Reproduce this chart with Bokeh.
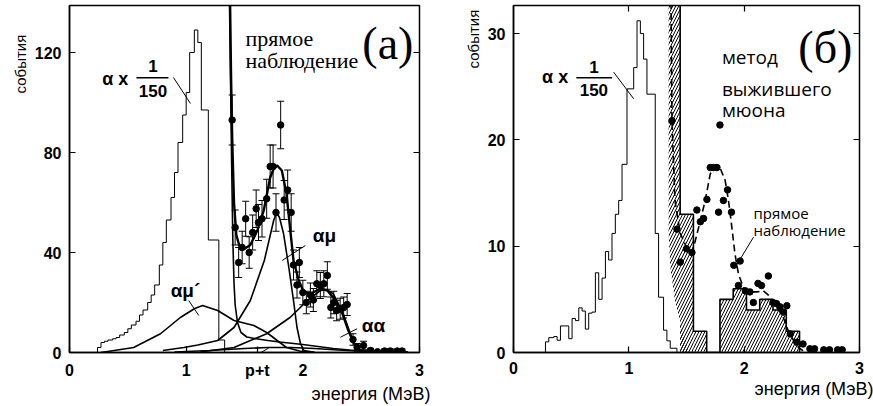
import math
from bokeh.plotting import figure
from bokeh.models import Range1d, FixedTicker, LinearAxis, Label, Whisker, TeeHead, ColumnDataSource, Title
from bokeh.layouts import row
from bokeh.embed import file_html
from bokeh.resources import INLINE

# ---------------- tick data ----------------
xticks_a = [0, 1, 1.61, 2, 3]
xtick_labels_a = ["0", "1", "p+t", "2", "3"]
xticks_b = [0, 1, 2, 3]
xtick_labels_b = ["0", "1", "2", "3"]
yticks_a = [0, 40, 80, 120]
yticks_b = [0, 10, 20, 30]

# ---------------- panel (a) data ----------------
# alpha x 1/150 histogram (a)
alpha_a_edges = [0.24, 0.27, 0.30, 0.33, 0.37, 0.40, 0.43, 0.47, 0.50, 0.53, 0.57, 0.60, 0.63, 0.67,
                 0.70, 0.73, 0.77, 0.80, 0.83, 0.87, 0.90, 0.93, 0.97, 1.00, 1.03, 1.07, 1.10, 1.13,
                 1.19, 1.28, 1.33]
alpha_a_counts = [2, 4, 4.5, 5, 5.5, 6, 7, 8, 9.5, 11, 12.5, 15, 17, 20, 23, 27, 35, 44, 53, 62,
                  72, 84, 95, 104, 120, 129, 124, 97, 45, 5]

# measured points (a)
pts_a_x = [1.394, 1.42, 1.45, 1.48, 1.51, 1.54, 1.57, 1.60, 1.62, 1.65, 1.69, 1.72, 1.745, 1.77, 1.81,
           1.84, 1.87, 1.90, 1.92, 1.95, 1.97, 2.00, 2.03, 2.065, 2.09, 2.12, 2.15, 2.18, 2.21, 2.24,
           2.265, 2.29, 2.32, 2.35, 2.38, 2.43, 2.465, 2.52, 2.58, 2.64, 2.70, 2.75, 2.81, 2.85]
pts_a_y = [93, 50, 36, 42, 53.5, 40, 48, 57.5, 52, 53.5, 61.5, 74.4, 74.4, 56, 91,
           61, 65, 56, 35, 27, 36, 24, 20, 23, 21, 27.5, 26.8, 27.5, 30.8, 18,
           20, 16.8, 17.5, 18, 19.2, 5.2, 2.1, 2.8, 0.8, 0.3, 0.6, 0.6, 0.6, 0.6]
pts_a_err = [10, 7, 6, 6.5, 7, 6.3, 7, 7.5, 7.2, 7.3, 7.8, 8.6, 8.6, 7.5, 9.5,
             7.8, 8, 7.5, 6, 5.2, 6, 4.9, 4.5, 4.8, 4.6, 5.2, 5.2, 5.2, 5.5, 4.2,
             4.5, 4.1, 4.2, 4.2, 4.4, 2.3, 1.5, 1.7, 0.9, 0.5, 0.8, 0.8, 0.8, 0.8]

# fit curves (a)
total_x = [1.375, 1.385, 1.395, 1.41, 1.43, 1.46, 1.50, 1.55, 1.61, 1.665, 1.72, 1.75, 1.78, 1.82,
           1.86, 1.89, 1.92, 1.965, 2.01, 2.065, 2.15, 2.21, 2.28, 2.34, 2.39, 2.44, 2.49, 2.58, 2.9]
total_y = [145, 110, 85, 60, 47, 42, 41.5, 43, 48.8, 56.8, 70, 73.5, 74.8, 72.8,
           63.5, 50, 36.8, 28.8, 24, 23.5, 25.5, 24.8, 20.8, 15.5, 8.8, 3.5, 0.8, 0.3, 0.1]
bg_x = [1.37, 1.38, 1.39, 1.40, 1.41, 1.42, 1.44, 1.47, 1.52, 1.6, 1.7, 1.8, 2.0, 2.26, 2.4, 2.6, 2.9]
bg_y = [145, 110, 75, 45, 28, 19, 12, 8, 6.2, 5.5, 4.8, 4.2, 3.2, 1.6, 1.0, 0.3, 0.1]
amu_x = [0.8, 0.98, 1.1, 1.27, 1.41, 1.55, 1.67, 1.75, 1.775, 1.80, 1.835, 1.88, 1.92, 1.95, 1.98, 2.01, 2.1]
amu_y = [0.8, 2, 3, 4.8, 10, 20.8, 36.8, 52.8, 56, 54, 47.5, 34, 20.8, 10, 3.5, 0.8, 0.1]
aa_x = [1.12, 1.41, 1.69, 1.89, 2.04, 2.15, 2.21, 2.26, 2.30, 2.35, 2.40, 2.44, 2.50, 2.6]
aa_y = [0.2, 2, 7.5, 14, 20.8, 24.8, 25, 23.5, 20, 15, 8.5, 3.5, 0.5, 0.1]
amup_x = [0.27, 0.55, 0.78, 0.95, 1.07, 1.14, 1.27, 1.41, 1.58, 1.69, 1.78, 1.86, 1.98, 2.1]
amup_y = [0, 2, 7.5, 14, 17.5, 18.8, 16.8, 12.8, 10.8, 8, 4.8, 2, 0.5, 0.1]
pt_x = [0.9, 1.2, 1.5, 1.7, 1.9, 2.1, 2.3, 2.5, 2.7]
pt_y = [0.2, 0.8, 1.6, 2.0, 2.0, 1.6, 1.0, 0.5, 0.2]

# ---------------- panel (b) data ----------------
alpha_b_edges = [0.277, 0.306, 0.349, 0.378, 0.407, 0.479, 0.508, 0.537, 0.566, 0.595, 0.623, 0.652,
                 0.681, 0.71, 0.739, 0.768, 0.797, 0.825, 0.854, 0.883, 0.912, 0.941, 0.984, 1.042,
                 1.071, 1.10, 1.128, 1.157, 1.229, 1.258, 1.301, 1.33, 1.359, 1.417]
alpha_b_counts = [1.0, 1.4, 1.5, 1.15, 2.5, 1.3, 3.2, 3.0, 4.2, 3.9, 2.2, 3.7, 3.8, 7.5, 5.0, 7.0,
                  9.5, 8.7, 11.2, 13.0, 14.3, 17.7, 24.8, 26.8, 31.2, 30.0, 27.6, 24.3, 11.2, 5.2,
                  2.1, 1.1, 0.4]

# hatched histogram (survived-muon method)
hatch_edges = [1.445, 1.56, 1.675, 1.79, 1.905, 2.02, 2.135, 2.25, 2.365, 2.48]
hatch_counts = [13, 2, 0, 5, 6, 4, 5, 4, 2]
# left boundary of the steep background wedge
wedge_x = [1.345, 1.345, 1.36, 1.40, 1.47, 1.52]
wedge_y = [40, 11.2, 8.0, 4.9, 1.75, 0]

pts_b_x = [1.374, 1.417, 1.446, 1.50, 1.547, 1.59, 1.62, 1.648, 1.677, 1.706, 1.734, 1.764, 1.778,
           1.79, 1.82, 1.856, 1.89, 1.91, 1.95, 1.965, 2.01, 2.05, 2.08, 2.12, 2.15, 2.21, 2.25,
           2.28, 2.31, 2.34, 2.37, 2.40, 2.456, 2.51, 2.57, 2.61, 2.69, 2.74, 2.81, 2.85]
pts_b_y = [21.8, 11.6, 8.5, 9.75, 9.4, 13.4, 12.3, 12.6, 14.4, 17.4, 17.4, 17.4, 13.2,
           21.4, 14.3, 15.3, 13.2, 8.2, 6.3, 8.6, 5.8, 5.7, 4.7, 6.5, 6.3, 7.2, 4.7,
           4.6, 4.3, 3.8, 4.4, 1.75, 0.97, 0.8, 0.35, 0.35, 0.25, 0.25, 0.25, 0.25]

dash_x = [1.365, 1.374, 1.40, 1.446, 1.50, 1.547, 1.576, 1.62, 1.662, 1.706, 1.75, 1.79, 1.835, 1.864,
          1.893, 1.92, 1.95, 1.994, 2.04, 2.11, 2.167, 2.21, 2.25, 2.30, 2.34, 2.38, 2.43, 2.47, 2.51]
dash_y = [34, 21.8, 14.3, 11.2, 9.9, 9.4, 10.5, 12.4, 14.3, 16.8, 17.6, 17.4, 16.2, 14.3,
          11.8, 9.3, 7.4, 6.1, 5.7, 5.7, 5.8, 5.4, 4.6, 4.0, 3.3, 2.1, 1.1, 0.5, 0.15]

SANS = "Liberation Sans"
SERIF = "Liberation Serif"
OPEN = "Open Sans"
NB = "\u00a0"


def step_xy(edges, counts):
    xs = [edges[0]] + list(edges)
    ys = [0] + list(counts) + [0]
    return xs, ys


def make_fig(width, left, right, ytop, xticks, xlabels, yticks, top_ticks, ylabel_pad, xlabel_offset):
    p = figure(width=width, height=406, output_backend="svg", toolbar_location=None,
               x_range=Range1d(0, 3), y_range=Range1d(0, ytop),
               min_border_left=left, min_border_right=right, min_border_top=5, min_border_bottom=54)
    p.grid.visible = False
    p.outline_line_color = "black"
    p.outline_line_width = 1.5
    p.background_fill_color = "white"
    p.border_fill_color = "white"
    for ax in (p.xaxis[0], p.yaxis[0]):
        ax.major_tick_in = 6
        ax.major_tick_out = 0
        ax.minor_tick_line_color = None
        ax.major_tick_line_width = 1.2
        ax.axis_line_width = 1.5
        ax.major_label_text_font = SANS
        ax.major_label_text_font_style = "bold"
        ax.major_label_text_font_size = "16px"
        ax.major_label_text_color = "black"
    p.xaxis[0].ticker = FixedTicker(ticks=xticks)
    p.xaxis[0].major_label_overrides = {t: s for t, s in zip(xticks, xlabels)}
    p.xaxis[0].major_label_standoff = 9
    p.yaxis[0].ticker = FixedTicker(ticks=yticks)
    p.yaxis[0].major_label_standoff = 8
    r = LinearAxis(ticker=FixedTicker(ticks=yticks), major_tick_in=6, major_tick_out=0,
                   minor_tick_line_color=None, axis_line_color=None,
                   major_label_overrides={t: "" for t in yticks},
                   major_label_standoff=0, major_tick_line_width=1.2)
    p.add_layout(r, "right")
    if top_ticks:
        t = LinearAxis(ticker=FixedTicker(ticks=[1, 2]), major_tick_in=6, major_tick_out=0,
                       minor_tick_line_color=None, axis_line_color=None,
                       major_label_overrides={1: "", 2: ""},
                       major_label_standoff=0, major_tick_line_width=1.2)
        p.add_layout(t, "above")
    p.add_layout(Title(text="энергия (МэВ)", align="right", offset=xlabel_offset, standoff=0,
                       text_font=SANS, text_font_size="18px", text_font_style="normal",
                       text_color="black"), "below")
    p.add_layout(Title(text="события" + NB * ylabel_pad, align="right", standoff=6,
                       text_font=SANS, text_font_size="15px", text_font_style="normal",
                       text_color="black"), "left")
    return p


def lab(p, x, y, text, font=SANS, size="16px", style="normal", align="left", baseline="middle", angle=0.0):
    p.add_layout(Label(x=x, y=y, text=text, text_font=font, text_font_size=size, text_font_style=style,
                       text_align=align, text_baseline=baseline, angle=angle, text_color="black"))


# ================= panel (a) =================
pa = make_fig(448, 69, 29, 138.8, xticks_a, xtick_labels_a, yticks_a, False, 7, -11)
hx, hy = step_xy(alpha_a_edges, alpha_a_counts)
pa.step(hx, hy, mode="after", line_color="black", line_width=1)

for cx, cy in ((bg_x, bg_y), (amu_x, amu_y), (aa_x, aa_y), (amup_x, amup_y), (pt_x, pt_y)):
    pa.line(cx, cy, line_color="black", line_width=1.6)
pa.line(total_x, total_y, line_color="black", line_width=2.4)

src_a = ColumnDataSource(dict(x=pts_a_x, y=pts_a_y,
                              lo=[v - e for v, e in zip(pts_a_y, pts_a_err)],
                              hi=[v + e for v, e in zip(pts_a_y, pts_a_err)]))
pa.add_layout(Whisker(source=src_a, base="x", upper="hi", lower="lo", line_width=1, line_color="black",
                      upper_head=TeeHead(size=7, line_width=1), lower_head=TeeHead(size=7, line_width=1)))
pa.scatter("x", "y", source=src_a, size=6.5, fill_color="black", line_color="black")

# annotation positions (a)
lab(pa, 0.28, 109.6, "α x", size="18px", style="bold")
lab(pa, 0.715, 114.6, "1", size="17px", style="bold", align="center")
lab(pa, 0.715, 104.6, "150", size="17px", style="bold", align="center")
pa.line([0.574, 0.848], [109.9, 109.9], line_color="black", line_width=1.5)
pa.line([0.891, 1.037], [110, 99.6], line_color="black", line_width=1)

lab(pa, 1.508, 125.8, "прямое", font=SERIF, size="22px", baseline="alphabetic")
lab(pa, 1.508, 116.8, "наблюдение", font=SERIF, size="22px", baseline="alphabetic")
lab(pa, 2.51, 123.7, "(а)", font=SERIF, size="46px", baseline="alphabetic")

lab(pa, 2.185, 46.8, "αμ", size="19px", style="bold", align="center")
pa.line([2.022, 1.823], [42.8, 36.8], line_color="black", line_width=1)
lab(pa, 0.994, 24.8, "αμ´", size="19px", style="bold", align="center")
pa.line([1.022, 1.108], [20.8, 14.8], line_color="black", line_width=1)
lab(pa, 2.605, 10.8, "αα", size="19px", style="bold", align="center")
pa.line([2.465, 2.322], [9.5, 6.1], line_color="black", line_width=1)
pa.line([1.64, 1.708], [0.0, 1.8], line_color="black", line_width=1)

# ================= panel (b) =================
pb = make_fig(425, 65, 14, 32.64, xticks_b, xtick_labels_b, yticks_b, True, 1, -14)
hx, hy = step_xy(alpha_b_edges, alpha_b_counts)
pb.step(hx, hy, mode="after", line_color="black", line_width=1)

# hatched wedge + bars
wx = list(wedge_x) + [hatch_edges[0], hatch_edges[0]]
wy = list(wedge_y) + [0, wedge_y[0]]
pb.patch(wx, wy, fill_color=None, line_color=None, hatch_pattern="/", hatch_color="black",
         hatch_scale=6, hatch_weight=1.0)
pb.quad(left=hatch_edges[:-1], right=hatch_edges[1:], top=hatch_counts, bottom=0,
        fill_color=None, line_color=None, hatch_pattern="/", hatch_color="black",
        hatch_scale=6, hatch_weight=1.0)
ox = [hatch_edges[0]] + list(hatch_edges)
oy = [wedge_y[0]] + list(hatch_counts) + [0]
pb.step(ox, oy, mode="after", line_color="black", line_width=1.6)

pb.line(dash_x, dash_y, line_color="black", line_width=1.6, line_dash="7 4")
pb.scatter(pts_b_x, pts_b_y, size=6.5, fill_color="black", line_color="black")

lab(pb, 0.248, 25.9, "α x", size="18px", style="bold")
lab(pb, 0.697, 26.9, "1", size="17px", style="bold", align="center")
lab(pb, 0.697, 24.65, "150", size="17px", style="bold", align="center")
pb.line([0.545, 0.855], [25.84, 25.84], line_color="black", line_width=1.5)
pb.line([0.868, 1.042], [26.37, 23.87], line_color="black", line_width=1)

lab(pb, 2.47, 28.7, "(б)", font=SERIF, size="46px", baseline="alphabetic")
lab(pb, 1.807, 27.8, "метод", font=OPEN, size="19px", baseline="alphabetic")
lab(pb, 1.807, 24.8, "выжившего", font=OPEN, size="19px", baseline="alphabetic")
lab(pb, 1.807, 22.8, "мюона", font=OPEN, size="19px", baseline="alphabetic")
lab(pb, 2.081, 13.1, "прямое", font=OPEN, size="15px", baseline="alphabetic")
lab(pb, 2.081, 11.5, "наблюдение", font=OPEN, size="15px", baseline="alphabetic")
pb.line([2.081, 1.922], [10.85, 8.0], line_color="black", line_width=1)

layout = row(pa, pb)
open("out.html", "w").write(file_html(layout, INLINE))
